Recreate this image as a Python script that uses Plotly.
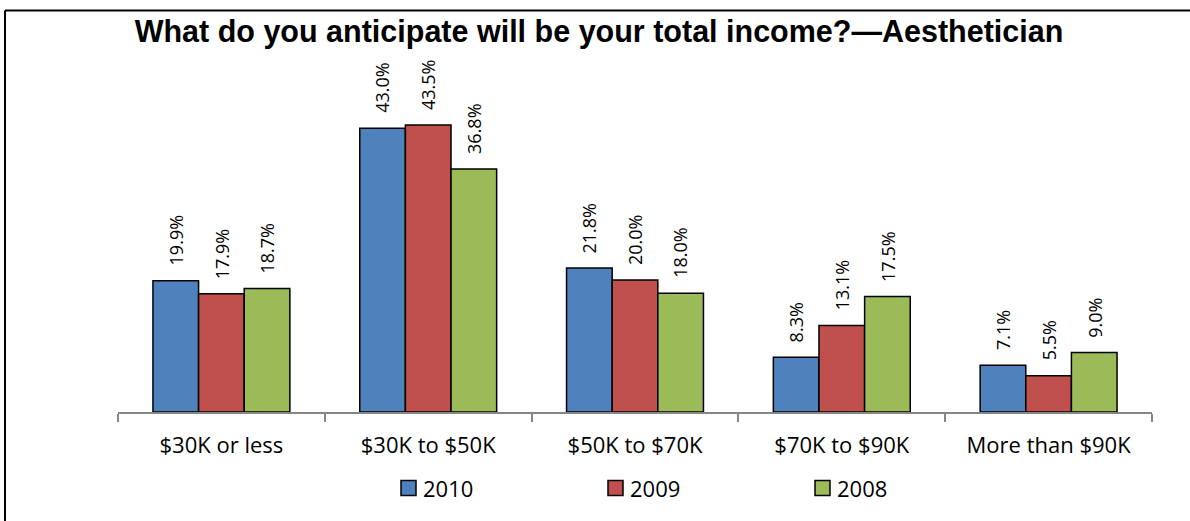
import plotly.graph_objects as go

# Survey data: share of respondents per anticipated income bracket
categories = ["$30K or less", "$30K to $50K", "$50K to $70K", "$70K to $90K", "More than $90K"]
years = ["2010", "2009", "2008"]
share_2010 = [19.9, 43.0, 21.8, 8.3, 7.1]
share_2009 = [17.9, 43.5, 20.0, 13.1, 5.5]
share_2008 = [18.7, 36.8, 18.0, 17.5, 9.0]
colors = ["#4F81BD", "#C0504D", "#9BBB59"]
series = [share_2010, share_2009, share_2008]

# Canvas and plot-area geometry (pixels)
W, H = 1190, 521
ML, MR, MT, MB = 118, 38, 82, 109
PW = W - ML - MR
PH = H - MT - MB
BARGAP = 0.338
Y_MAX = 50

LABEL_FONT = "Open Sans, Noto Sans, sans-serif"


def paper_x(px):
    return (px - ML) / PW


def paper_y(py):
    return (H - MB - py) / PH


fig = go.Figure()

for name, vals, col in zip(years, series, colors):
    fig.add_trace(go.Bar(
        x=categories, y=vals, name=name,
        marker=dict(color=col, line=dict(color="black", width=1.5)),
        showlegend=False,
    ))

# Rotated value labels above each bar
bar_w = (1 - BARGAP) / len(series)
for k, vals in enumerate(series):
    off = (k - (len(series) - 1) / 2) * bar_w
    for i, v in enumerate(vals):
        fig.add_annotation(
            x=i + off, y=v, xref="x", yref="y",
            text=f"{v:.1f}%", textangle=-90, showarrow=False,
            xanchor="center", yanchor="bottom", yshift=15,
            borderpad=0, borderwidth=0,
            font=dict(family=LABEL_FONT, size=18, color="black"),
        )

# Legend row: outlined swatches with year labels
legend_y = 488
swatch = 15
legend_x0 = 401
legend_step = 207
shapes = []
for k, (name, col) in enumerate(zip(years, colors)):
    sx = legend_x0 + k * legend_step
    shapes.append(dict(
        type="rect", xref="paper", yref="paper",
        x0=paper_x(sx), x1=paper_x(sx + swatch),
        y0=paper_y(legend_y + swatch / 2), y1=paper_y(legend_y - swatch / 2),
        fillcolor=col, line=dict(color="black", width=1.5),
    ))
    fig.add_annotation(
        x=paper_x(sx + swatch + 7), y=paper_y(legend_y - 0.5), xref="paper", yref="paper",
        text=name, showarrow=False, xanchor="left", yanchor="middle",
        borderpad=0, borderwidth=0,
        font=dict(family=LABEL_FONT, size=22, color="black"),
    )

# Frame along the top and left edges
shapes.append(dict(type="line", xref="paper", yref="paper",
                   x0=paper_x(5), x1=paper_x(W + 5), y0=paper_y(10.5), y1=paper_y(10.5),
                   line=dict(color="black", width=2)))
shapes.append(dict(type="line", xref="paper", yref="paper",
                   x0=paper_x(5), x1=paper_x(5), y0=paper_y(10.5), y1=paper_y(H + 5),
                   line=dict(color="black", width=2)))

fig.update_layout(
    width=W, height=H,
    margin=dict(l=ML, r=MR, t=MT, b=MB, pad=0),
    paper_bgcolor="white", plot_bgcolor="white",
    barmode="group", bargap=BARGAP, bargroupgap=0,
    title=dict(
        text="<b>What do you anticipate will be your total income?—Aesthetician</b>",
        font=dict(family="Liberation Sans, Arial, sans-serif", size=30.5, color="black"),
        x=599 / W, xanchor="center", xref="container",
        y=1 - 21 / H, yanchor="top", yref="container",
    ),
    xaxis=dict(
        type="category", showline=True, linecolor="#868686", linewidth=2,
        ticks="outside", tickson="boundaries", ticklen=8, tickwidth=2, tickcolor="#868686",
        showgrid=False, zeroline=False, ticklabelstandoff=13,
        tickfont=dict(family=LABEL_FONT, size=22, color="black"),
    ),
    yaxis=dict(
        range=[0, Y_MAX], visible=False, showgrid=False, zeroline=False,
    ),
    shapes=shapes,
    showlegend=False,
)

fig.write_html("out.html")
